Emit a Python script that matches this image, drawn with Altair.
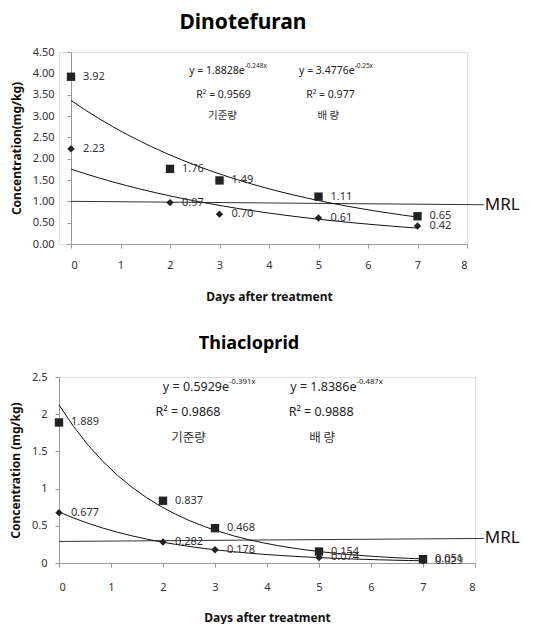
import altair as alt
import pandas as pd

FONT = "Noto Sans"
KFONT = "Noto Sans CJK KR"

days = [0, 2, 3, 5, 7]
series_names = ["기준량", "배 량"]

# Dinotefuran
dino_standard = [2.23, 0.97, 0.70, 0.61, 0.42]
dino_double = [3.92, 1.76, 1.49, 1.11, 0.65]
dino_standard_labels = ["2.23", "0.97", "0.70", "0.61", "0.42"]
dino_double_labels = ["3.92", "1.76", "1.49", "1.11", "0.65"]
dino_mrl_x = [0, 8.34]
dino_mrl_y = [1.0, 0.92]
dino_eq_base = ["y = 1.8828e", "y = 3.4776e"]
dino_eq_exp = ["-0.248x", "-0.25x"]
dino_r2 = ["R² = 0.9569", "R² = 0.977"]
dino_kor = ["기준량", "배  량"]

# Thiacloprid
thia_standard = [0.677, 0.282, 0.178, 0.074, 0.029]
thia_double = [1.889, 0.837, 0.468, 0.154, 0.051]
thia_standard_labels = ["0.677", "0.282", "0.178", "0.074", "0.029"]
thia_double_labels = ["1.889", "0.837", "0.468", "0.154", "0.051"]
thia_mrl_x = [0, 8.17]
thia_mrl_y = [0.29, 0.33]
thia_eq_base = ["y = 0.5929e", "y = 1.8386e"]
thia_eq_exp = ["-0.391x", "-0.487x"]
thia_r2 = ["R² = 0.9868", "R² = 0.9888"]
thia_kor = ["기준량", "배  량"]

x_ticks = list(range(0, 9))


def panel(title, title_size, title_dx, title_offset, ytitle, ymax, yvalues, yfmt,
          shift, width, height,
          std, dbl, std_lab, dbl_lab, mrl_x, mrl_y,
          eq_base, eq_exp, r2, kor,
          eq_x, eq_y, r2_x, r2_y, kor_x, kor_y,
          eq_size, ylab_pad, xlab_pad, xtitle_pad):
    df = pd.DataFrame({
        "day": days + days,
        "conc": std + dbl,
        "series": [series_names[0]] * len(days) + [series_names[1]] * len(days),
        "label": std_lab + dbl_lab,
    })
    xscale = alt.Scale(domain=[0, 8], nice=False, zero=False, range=[shift, shift + width])
    yscale = alt.Scale(domain=[0, ymax], nice=False)
    xaxis = alt.Axis(values=x_ticks, format="d", title="Days after treatment",
                     grid=False, domainColor="#999", tickColor="#999", tickSize=4,
                     labelFont=FONT, labelFontSize=11, labelColor="#333",
                     labelPadding=xlab_pad, titleFont=FONT, titleFontSize=12,
                     titleFontWeight="bold", titleColor="#111", titlePadding=xtitle_pad,
                     minExtent=0, titleX=shift + width / 2)
    yaxis = alt.Axis(values=yvalues, format=yfmt, title=ytitle, grid=False,
                     domainColor="#999", tickColor="#999", tickSize=4,
                     labelFont=FONT, labelFontSize=11, labelColor="#333",
                     labelPadding=ylab_pad, titleFont=FONT, titleFontSize=12,
                     titleFontWeight="bold", titleColor="#111", titlePadding=9,
                     minExtent=0, offset=-shift)
    X = alt.X("day:Q", scale=xscale, axis=xaxis)
    Y = alt.Y("conc:Q", scale=yscale, axis=yaxis)

    base = alt.Chart(df)
    trend = base.transform_calculate(
        lc="log(datum.conc)"
    ).transform_regression(
        "day", "lc", method="poly", order=1, groupby=["series"]
    ).transform_calculate(
        conc="exp(datum.lc)"
    ).mark_line(color="#111", strokeWidth=1).encode(x=X, y=Y, detail="series:N")

    pts = base.mark_point(filled=True, opacity=1, color="#222").encode(
        x=X, y=Y,
        shape=alt.Shape("series:N", scale=alt.Scale(domain=series_names, range=["diamond", "square"]), legend=None),
        size=alt.Size("series:N", scale=alt.Scale(domain=series_names, range=[55, 70]), legend=None),
    )
    labels = base.mark_text(align="left", baseline="middle", dx=12, font=FONT,
                            fontSize=11, color="#333").encode(x=X, y=Y, text="label:N")

    mrl_df = pd.DataFrame({"day": mrl_x, "conc": mrl_y})
    mrl_line = alt.Chart(mrl_df).mark_line(color="#333", strokeWidth=1).encode(x=X, y=Y)
    mrl_txt_df = pd.DataFrame({"day": [mrl_x[-1]], "conc": [mrl_y[-1]], "t": ["MRL"]})
    mrl_txt = alt.Chart(mrl_txt_df).mark_text(align="left", baseline="middle", dx=1,
                                              font=FONT, fontSize=17, color="#111").encode(
        x=X, y=Y, text="t:N")

    eq_df = pd.DataFrame({"day": eq_x, "conc": [eq_y, eq_y], "t": eq_base, "e": eq_exp})
    eq_base_m = alt.Chart(eq_df).mark_text(align="right", baseline="middle", font=FONT,
                                           fontSize=eq_size, color="#222").encode(
        x=X, y=Y, text="t:N")
    eq_exp_m = alt.Chart(eq_df).mark_text(align="left", baseline="middle", dy=-5, font=FONT,
                                          fontSize=eq_size * 0.62, color="#222").encode(
        x=X, y=Y, text="e:N")
    r2_df = pd.DataFrame({"day": r2_x, "conc": [r2_y, r2_y], "t": r2})
    r2_m = alt.Chart(r2_df).mark_text(align="center", baseline="middle", font=FONT,
                                      fontSize=eq_size, color="#222").encode(x=X, y=Y, text="t:N")
    kor_df = pd.DataFrame({"day": kor_x, "conc": [kor_y, kor_y], "t": kor})
    kor_m = alt.Chart(kor_df).mark_text(align="center", baseline="middle", font=KFONT,
                                        fontSize=eq_size, color="#333").encode(x=X, y=Y, text="t:N")

    return alt.layer(mrl_line, trend, pts, labels, mrl_txt, eq_base_m, eq_exp_m, r2_m, kor_m).properties(
        width=shift + width, height=height,
        title=alt.TitleParams(title, font=FONT, fontSize=title_size, fontWeight="bold", color="#000",
                              anchor="middle", frame="group", dx=title_dx, offset=title_offset),
    )


top = panel("Dinotefuran", 21, -20, 13, "Concentration(mg/kg)", 4.5,
            [0, 0.5, 1, 1.5, 2, 2.5, 3, 3.5, 4, 4.5], ".2f", 12, 396, 192,
            dino_standard, dino_double, dino_standard_labels, dino_double_labels,
            dino_mrl_x, dino_mrl_y, dino_eq_base, dino_eq_exp, dino_r2, dino_kor,
            [3.51, 5.73], 4.06, [3.08, 5.24], 3.49, [3.06, 5.2], 3.0,
            10.5, 13, 11, 21)

bottom = panel("Thiacloprid", 18, -18, 18, "Concentration (mg/kg)", 2.5,
               [0, 0.5, 1, 1.5, 2, 2.5], "~g", 0, 416, 186,
               thia_standard, thia_double, thia_standard_labels, thia_double_labels,
               thia_mrl_x, thia_mrl_y, thia_eq_base, thia_eq_exp, thia_r2, thia_kor,
               [3.27, 5.72], 2.36, [2.48, 5.04], 2.03, [2.49, 5.06], 1.68,
               12.5, 8, 14, 20)

chart = alt.ConcatChart(
    concat=[top, bottom], columns=1, spacing=31,
    padding={"left": 0, "top": 3, "right": 0, "bottom": 0},
).configure_view(stroke=None).configure(background="white")

chart.save("out.html", embed_options={"renderer": "svg", "actions": False})
